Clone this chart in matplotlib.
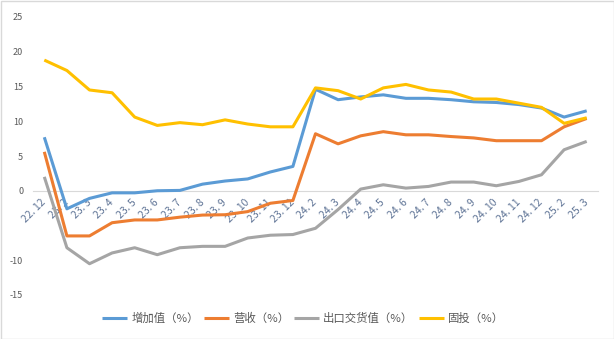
import matplotlib
matplotlib.use("Agg")
import matplotlib.pyplot as plt
from matplotlib.patches import Rectangle

plt.rcParams['font.family'] = ['Noto Sans CJK SC', 'DejaVu Sans']

categories = ["22. 12", "23. 2", "23. 3", "23. 4", "23. 5", "23. 6", "23. 7", "23. 8",
              "23. 9", "23. 10", "23. 11", "23. 12", "24. 2", "24. 3", "24. 4", "24. 5",
              "24. 6", "24. 7", "24. 8", "24. 9", "24. 10", "24. 11", "24. 12", "25. 2", "25. 3"]

value_added = [7.7, -2.6, -1.1, -0.3, -0.3, 0.0, 0.05, 0.95, 1.4, 1.7, 2.7, 3.5,
               14.6, 13.1, 13.5, 13.8, 13.3, 13.3, 13.1, 12.8, 12.7, 12.4, 11.9, 10.6, 11.5]
revenue = [5.6, -6.5, -6.5, -4.6, -4.2, -4.2, -3.8, -3.5, -3.45, -3.0, -1.8, -1.4,
           8.2, 6.75, 7.9, 8.5, 8.05, 8.05, 7.8, 7.6, 7.2, 7.2, 7.2, 9.2, 10.4]
export_value = [2.0, -8.2, -10.5, -8.95, -8.2, -9.2, -8.2, -8.0, -8.0, -6.8, -6.4, -6.3,
                -5.4, -2.7, 0.24, 0.86, 0.38, 0.62, 1.25, 1.25, 0.72, 1.34, 2.3, 5.9, 7.1]
fixed_invest = [18.8, 17.3, 14.5, 14.1, 10.6, 9.4, 9.8, 9.5, 10.2, 9.6, 9.2, 9.2,
                14.8, 14.4, 13.2, 14.8, 15.3, 14.5, 14.2, 13.2, 13.2, 12.6, 12.0, 9.7, 10.5]

series_names = ["增加值（%）", "营收（%）", "出口交货值（%）", "固投（%）"]
colors = ["#5B9BD5", "#ED7D31", "#A5A5A5", "#FFC000"]
yticks = [-15, -10, -5, 0, 5, 10, 15, 20, 25]
ytick_labels = ["-15", "-10", "", "0", "5", "10", "15", "20", "25"]

fig = plt.figure(figsize=(6.14, 3.39), dpi=100)
ax = fig.add_axes([33/614, 44/339, (598-33)/614, (322-44)/339])

x = list(range(len(categories)))
for data, name, c in zip([value_added, revenue, export_value, fixed_invest], series_names, colors):
    ax.plot(x, data, color=c, lw=2.2, label=name, solid_joinstyle='round', solid_capstyle='butt')

for s in ['top', 'right', 'left']:
    ax.spines[s].set_visible(False)
ax.spines['bottom'].set_position(('data', 0))
ax.spines['bottom'].set_color('#D9D9D9')
ax.spines['bottom'].set_linewidth(0.8)
ax.spines['bottom'].set_zorder(0)

ax.set_xlim(-0.5, len(categories) - 0.5)
ax.set_ylim(-15, 25)
ax.set_yticks(yticks)
ax.set_yticklabels(ytick_labels)
ax.set_xticks(x)
ax.set_xticklabels(categories)
ax.tick_params(axis='y', length=0, labelsize=6.5, labelcolor='#595959', pad=7)
ax.tick_params(axis='x', length=0, labelsize=7.5, pad=7)
for lbl in ax.get_xticklabels():
    lbl.set_rotation(45)
    lbl.set_ha('right')
    lbl.set_va('center')
    lbl.set_rotation_mode('anchor')
    lbl.set_color('#5F7496')

leg = fig.legend(loc='center', bbox_to_anchor=(303/614, (339-318)/339),
                 ncol=4, frameon=False, fontsize=8.2, handlelength=2.2,
                 handletextpad=0.35, columnspacing=0.45)
for t in leg.get_texts():
    t.set_color('#595959')

fig.patches.append(Rectangle((0.5/614, 0.5/339), 1 - 1/614, 1 - 1/339, transform=fig.transFigure,
                             fill=False, edgecolor='#D9D9D9', lw=1))

fig.savefig("out.png", dpi=100)
